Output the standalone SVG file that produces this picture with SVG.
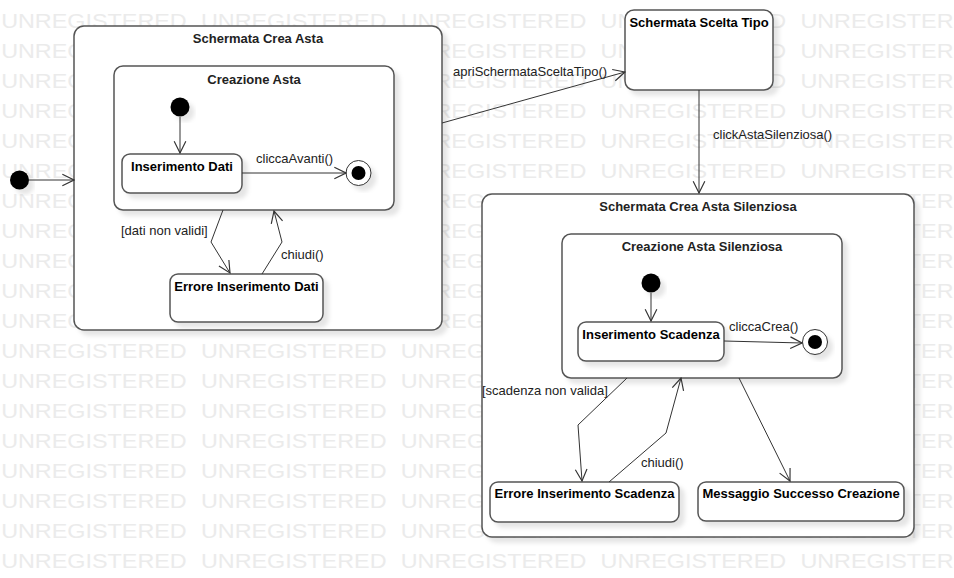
<svg xmlns="http://www.w3.org/2000/svg" width="954" height="578" viewBox="0 0 954 578">
<style>
.wm{font-family:"Liberation Sans",Arial,sans-serif;font-size:20.5px;word-spacing:6.8px;fill:#ebebeb}
.box{fill:#fff;stroke:#555;stroke-width:1.5}
.st{font-family:"Liberation Sans",Arial,sans-serif;font-size:13px;font-weight:bold;fill:#000;text-anchor:middle}
.ti{font-family:"Liberation Sans",Arial,sans-serif;font-size:13px;font-weight:bold;fill:#222;text-anchor:middle}
.lb{font-family:"Liberation Sans",Arial,sans-serif;font-size:13px;fill:#222}
.cn{fill:none;stroke:#333;stroke-width:1;marker-end:url(#ar)}
.ini{fill:#000}
.fin{fill:#fff;stroke:#333;stroke-width:1}
.sh{filter:url(#sh)}
</style>
<defs>
<filter id="sh" x="-20%" y="-20%" width="150%" height="150%">
<feDropShadow dx="5" dy="5" stdDeviation="2" flood-color="#000" flood-opacity="0.1"/>
</filter>
<marker id="ar" markerUnits="userSpaceOnUse" markerWidth="14" markerHeight="14" viewBox="0 0 12 12" refX="11" refY="6" orient="auto">
<path d="M1,1 L11,6 L1,11" fill="none" stroke="#333" stroke-width="1"/>
</marker>
</defs>
<rect width="954" height="578" fill="#fff"/>
<g id="watermark" transform="scale(1.14,1)">
<text class="wm" x="1" y="28">UNREGISTERED UNREGISTERED UNREGISTERED UNREGISTERED UNREGISTERED</text>
<text class="wm" x="1" y="58">UNREGISTERED UNREGISTERED UNREGISTERED UNREGISTERED UNREGISTERED</text>
<text class="wm" x="1" y="88">UNREGISTERED UNREGISTERED UNREGISTERED UNREGISTERED UNREGISTERED</text>
<text class="wm" x="1" y="118">UNREGISTERED UNREGISTERED UNREGISTERED UNREGISTERED UNREGISTERED</text>
<text class="wm" x="1" y="148">UNREGISTERED UNREGISTERED UNREGISTERED UNREGISTERED UNREGISTERED</text>
<text class="wm" x="1" y="178">UNREGISTERED UNREGISTERED UNREGISTERED UNREGISTERED UNREGISTERED</text>
<text class="wm" x="1" y="208">UNREGISTERED UNREGISTERED UNREGISTERED UNREGISTERED UNREGISTERED</text>
<text class="wm" x="1" y="238">UNREGISTERED UNREGISTERED UNREGISTERED UNREGISTERED UNREGISTERED</text>
<text class="wm" x="1" y="268">UNREGISTERED UNREGISTERED UNREGISTERED UNREGISTERED UNREGISTERED</text>
<text class="wm" x="1" y="298">UNREGISTERED UNREGISTERED UNREGISTERED UNREGISTERED UNREGISTERED</text>
<text class="wm" x="1" y="328">UNREGISTERED UNREGISTERED UNREGISTERED UNREGISTERED UNREGISTERED</text>
<text class="wm" x="1" y="358">UNREGISTERED UNREGISTERED UNREGISTERED UNREGISTERED UNREGISTERED</text>
<text class="wm" x="1" y="388">UNREGISTERED UNREGISTERED UNREGISTERED UNREGISTERED UNREGISTERED</text>
<text class="wm" x="1" y="418">UNREGISTERED UNREGISTERED UNREGISTERED UNREGISTERED UNREGISTERED</text>
<text class="wm" x="1" y="448">UNREGISTERED UNREGISTERED UNREGISTERED UNREGISTERED UNREGISTERED</text>
<text class="wm" x="1" y="478">UNREGISTERED UNREGISTERED UNREGISTERED UNREGISTERED UNREGISTERED</text>
<text class="wm" x="1" y="508">UNREGISTERED UNREGISTERED UNREGISTERED UNREGISTERED UNREGISTERED</text>
<text class="wm" x="1" y="538">UNREGISTERED UNREGISTERED UNREGISTERED UNREGISTERED UNREGISTERED</text>
<text class="wm" x="1" y="568">UNREGISTERED UNREGISTERED UNREGISTERED UNREGISTERED UNREGISTERED</text>
</g>

<g id="schermata-crea-asta">
<rect class="box sh" x="74" y="26" width="368" height="304" rx="10"/>
<text class="ti" x="258" y="43">Schermata Crea Asta</text>
</g>
<g id="creazione-asta">
<rect class="box sh" x="114" y="66" width="280" height="144" rx="9"/>
<text class="ti" x="254" y="84">Creazione Asta</text>
</g>
<g id="ini-outer"><circle class="ini sh" cx="19.5" cy="180" r="9.5"/></g>
<g id="ini-inner1"><circle class="ini sh" cx="180" cy="107" r="9.5"/></g>
<g id="inserimento-dati">
<rect class="box sh" x="122" y="154" width="120" height="39" rx="8"/>
<text class="st" x="182" y="171">Inserimento Dati</text>
</g>
<g id="final1">
<circle class="fin sh" cx="358.5" cy="173" r="12.5"/>
<circle class="ini" cx="358.5" cy="173" r="7"/>
</g>
<g id="errore-inserimento-dati">
<rect class="box sh" x="170" y="274" width="153" height="48" rx="8"/>
<text class="st" x="246.5" y="291">Errore Inserimento Dati</text>
</g>
<g id="schermata-scelta-tipo">
<rect class="box sh" x="625" y="10" width="148" height="80" rx="9"/>
<text class="st" x="699" y="27">Schermata Scelta Tipo</text>
</g>
<g id="schermata-crea-asta-silenziosa">
<rect class="box sh" x="482" y="194" width="432" height="343" rx="10"/>
<text class="ti" x="698" y="211">Schermata Crea Asta Silenziosa</text>
</g>
<g id="creazione-asta-silenziosa">
<rect class="box sh" x="562" y="234" width="280" height="144" rx="9"/>
<text class="ti" x="702" y="251">Creazione Asta Silenziosa</text>
</g>
<g id="ini-inner2"><circle class="ini sh" cx="651" cy="283" r="9.5"/></g>
<g id="inserimento-scadenza">
<rect class="box sh" x="578" y="322" width="146" height="39" rx="8"/>
<text class="st" x="651" y="339">Inserimento Scadenza</text>
</g>
<g id="final2">
<circle class="fin sh" cx="815" cy="342" r="12.5"/>
<circle class="ini" cx="815" cy="342" r="7"/>
</g>
<g id="errore-inserimento-scadenza">
<rect class="box sh" x="490" y="482" width="189" height="40" rx="8"/>
<text class="st" x="584.5" y="498">Errore Inserimento Scadenza</text>
</g>
<g id="messaggio-successo-creazione">
<rect class="box sh" x="698" y="482" width="206" height="39" rx="8"/>
<text class="st" x="801" y="498">Messaggio Successo Creazione</text>
</g>

<g id="connectors">
<path class="cn" d="M29,180 L74,180"/>
<path class="cn" d="M180,117 L180,153"/>
<path class="cn" d="M242,173 L346,173"/>
<path class="cn" d="M223,210 L211,242 L230,273"/>
<path class="cn" d="M262,274 L282,242 L274,211"/>
<path class="cn" d="M442,123 L625,72"/>
<path class="cn" d="M699,90 L699,193"/>
<path class="cn" d="M651,293 L651,321"/>
<path class="cn" d="M724,341 L802,343"/>
<path class="cn" d="M627,378 L578,425 L582,481"/>
<path class="cn" d="M609,482 L666,433 L681,378"/>
<path class="cn" d="M739,378 L790,481"/>
<text class="lb" x="256" y="163">cliccaAvanti()</text>
<text class="lb" x="121" y="235">[dati non validi]</text>
<text class="lb" x="281" y="259">chiudi()</text>
<text class="lb" x="453" y="76">apriSchermataSceltaTipo()</text>
<text class="lb" x="713" y="139">clickAstaSilenziosa()</text>
<text class="lb" x="729" y="331">cliccaCrea()</text>
<text class="lb" x="482" y="395">[scadenza non valida]</text>
<text class="lb" x="641" y="467">chiudi()</text>
</g>
</svg>
